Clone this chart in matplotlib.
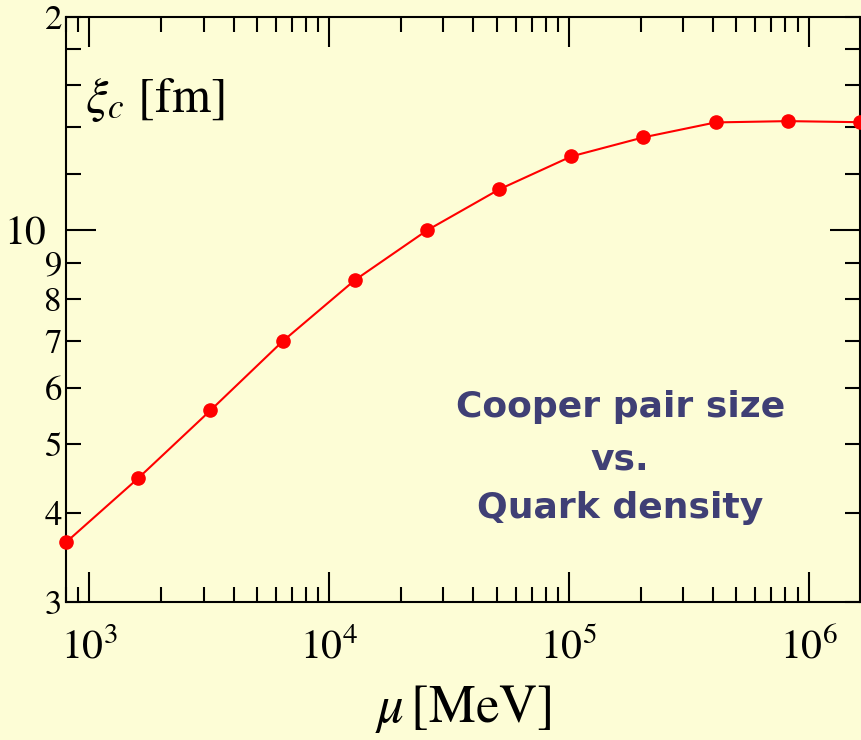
import matplotlib
matplotlib.use("Agg")
import matplotlib.pyplot as plt
from matplotlib.ticker import FixedLocator, FixedFormatter, LogLocator, NullFormatter

# Данные
mu = [800, 1600, 3200, 6400, 12800, 25600, 51200, 102400, 204800, 409600, 819200, 1638400]
xi_c = [3.64, 4.48, 5.58, 6.98, 8.51, 10.0, 11.42, 12.71, 13.52, 14.19, 14.25, 14.20]

y_major = [10]
y_major_labels = ["10"]
y_minor = [3, 4, 5, 6, 7, 8, 9, 12, 14, 16, 18, 20]
y_minor_labels = ["3", "4", "5", "6", "7", "8", "9", "", "", "", "", "2"]

note_lines = ["Cooper pair size", "vs.", "Quark density"]

bg = "#FDFDD6"
plt.rcParams["font.family"] = "STIXGeneral"
plt.rcParams["mathtext.fontset"] = "stix"

fig = plt.figure(figsize=(8.61, 7.4), dpi=100, facecolor=bg)
ax = fig.add_axes([66 / 861, 1 - 602 / 740, 794 / 861, 585.5 / 740])
ax.set_facecolor(bg)

ax.plot(mu, xi_c, color="red", lw=1.5, marker="o", ms=9.5, clip_on=False, zorder=5)

ax.set_xscale("log")
ax.set_yscale("log")
ax.set_xlim(800, 1638400)
ax.set_ylim(3, 20)

# Оси и засечки
for s in ax.spines.values():
    s.set_linewidth(1.5)

ax.xaxis.set_major_locator(LogLocator(base=10))
ax.xaxis.set_minor_locator(LogLocator(base=10, subs=range(2, 10)))
ax.xaxis.set_minor_formatter(NullFormatter())

ax.yaxis.set_major_locator(FixedLocator(y_major))
ax.yaxis.set_major_formatter(FixedFormatter(y_major_labels))
ax.yaxis.set_minor_locator(FixedLocator(y_minor))
ax.yaxis.set_minor_formatter(FixedFormatter(y_minor_labels))

ax.tick_params(which="both", direction="in", top=True, right=True, width=1.5, colors="black")
ax.tick_params(which="major", length=21.5)
ax.tick_params(which="minor", length=10.8)
ax.tick_params(axis="x", which="major", labelsize=30, pad=19)
ax.tick_params(axis="y", which="major", labelsize=30, pad=14)
ax.tick_params(axis="y", which="minor", labelsize=25, pad=3)

ax.set_xlabel(r"$\mu\,$[MeV]", fontsize=38, labelpad=11)
ax.text(0.024, 0.837, r"$\xi_c$ [fm]", transform=ax.transAxes, fontsize=36,
        ha="left", va="baseline")

# Подпись
note_y = [0.316, 0.226, 0.144]
for line, yy in zip(note_lines, note_y):
    ax.text(0.698, yy, line, transform=ax.transAxes, fontsize=26, fontweight="bold",
            family="DejaVu Sans", color="#3F3F75", ha="center", va="baseline")

fig.savefig("out.png", dpi=100, facecolor=bg)
